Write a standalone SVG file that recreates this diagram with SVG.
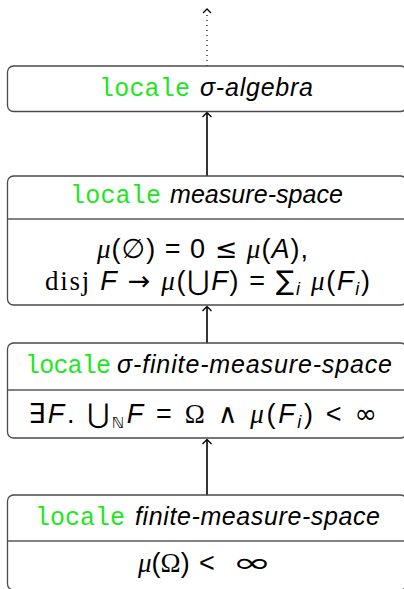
<svg xmlns="http://www.w3.org/2000/svg" width="404" height="589" viewBox="0 0 404 589">
<defs>
<style>
.box{fill:#fff;stroke:#4a4a4a;stroke-width:1.3}
.div{stroke:#5a5a5a;stroke-width:1.3}
.kw{font-family:"Liberation Mono",monospace;font-size:25px;fill:#1ee61e}
.nm{font-family:"Liberation Sans",sans-serif;font-style:italic;font-size:25px;fill:#000}
.mt{font-family:"Liberation Sans","DejaVu Sans",sans-serif;font-size:27px;fill:#000}
.sr{font-family:"Liberation Serif",serif}
.sy{font-family:"DejaVu Sans",sans-serif}
.it{font-style:italic}
.edge{stroke:#000;stroke-width:1.6;fill:none}
.dot{stroke:#000;stroke-width:1.2;fill:none;stroke-dasharray:1 4}
.head{stroke:#000;stroke-width:1.3;fill:none}
</style>
</defs>
<g id="connectors">
<line class="dot" x1="207" y1="66" x2="207" y2="12"/>
<path class="head" d="M203,13 L207,9 L211,13"/>
<line class="edge" x1="207" y1="176" x2="207" y2="113"/>
<path class="head" d="M202.5,117 L207,112.5 L211.5,117"/>
<line class="edge" x1="207" y1="343" x2="207" y2="307"/>
<path class="head" d="M202.5,311 L207,306.5 L211.5,311"/>
<line class="edge" x1="207" y1="495" x2="207" y2="440"/>
<path class="head" d="M202.5,444 L207,439.5 L211.5,444"/>
</g>
<g id="sigma-algebra">
<rect class="box" x="7.5" y="66" width="399" height="45.5" rx="6"/>
<text class="kw" x="99" y="96" textLength="91">locale</text>
<text class="nm" x="200" y="96" textLength="113">σ-algebra</text>
</g>
<g id="measure-space">
<rect class="box" x="7.5" y="176" width="399" height="129" rx="6"/>
<line class="div" x1="7.5" y1="219" x2="406.5" y2="219"/>
<text class="kw" x="70" y="203" textLength="91">locale</text>
<text class="nm" x="170" y="203" textLength="173">measure-space</text>
<text class="mt" x="97" y="258" textLength="211"><tspan class="sr it">μ</tspan>(<tspan class="sy">∅</tspan>)  =  0  <tspan class="sy">≤</tspan>  <tspan class="sr it">μ</tspan>(<tspan class="it">A</tspan>),</text>
<text class="mt" x="45" y="290" textLength="325"><tspan class="sr">disj</tspan> <tspan class="it">F</tspan> <tspan class="sy">→</tspan> <tspan class="sr it">μ</tspan>(<tspan class="sy">⋃</tspan><tspan class="it">F</tspan>) = <tspan class="sy">∑</tspan><tspan class="it" font-size="18" dy="5">i</tspan><tspan dy="-5"> </tspan><tspan class="sr it">μ</tspan>(<tspan class="it">F</tspan><tspan class="it" font-size="18" dy="5">i</tspan><tspan dy="-5">)</tspan></text>
</g>
<g id="sigma-finite-measure-space">
<rect class="box" x="7.5" y="343" width="399" height="95" rx="6"/>
<line class="div" x1="7.5" y1="390" x2="406.5" y2="390"/>
<text class="kw" x="25" y="373" textLength="86">locale</text>
<text class="nm" x="117" y="373" textLength="275">σ-finite-measure-space</text>
<text class="mt" x="28" y="423" textLength="349"><tspan class="sy">∃</tspan><tspan class="it">F</tspan>. <tspan class="sy">⋃</tspan><tspan class="sy" font-size="15" dy="5">ℕ</tspan><tspan dy="-5" class="it">F</tspan> = <tspan class="sr">Ω</tspan>  <tspan class="sy">∧</tspan>  <tspan class="sr it">μ</tspan>(<tspan class="it">F</tspan><tspan class="it" font-size="18" dy="5">i</tspan><tspan dy="-5">) &lt; <tspan class="sy">∞</tspan></tspan></text>
</g>
<g id="finite-measure-space">
<rect class="box" x="7.5" y="495" width="399" height="95" rx="6"/>
<line class="div" x1="7.5" y1="541" x2="406.5" y2="541"/>
<text class="mt" x="138" y="572"><tspan class="sr it">μ</tspan>(<tspan class="sr">Ω</tspan>)<tspan x="199">&lt;</tspan></text>
<text class="mt sy" x="232" y="572" font-size="28" textLength="40" lengthAdjust="spacingAndGlyphs">∞</text>
<text class="kw" x="35" y="525" textLength="90">locale</text>
<text class="nm" x="135" y="525" textLength="245">finite-measure-space</text>
</g>
</svg>
